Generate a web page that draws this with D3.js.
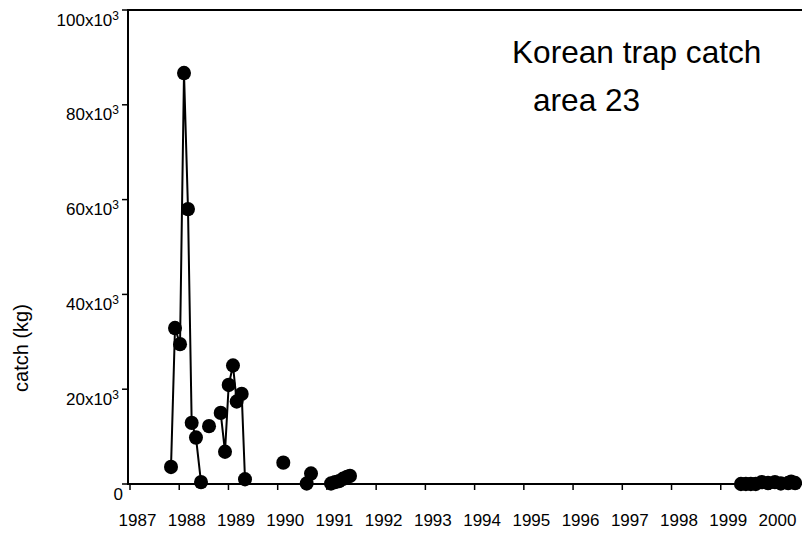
<!DOCTYPE html>
<html>
<head>
<meta charset="utf-8">
<script src="https://cdn.jsdelivr.net/npm/d3@7"></script>
<style>
  html, body { margin: 0; padding: 0; background: #fff; }
  svg { display: block; font-family: "Liberation Sans", Arial, sans-serif; }
</style>
</head>
<body>
<svg id="chart" width="802" height="533"></svg>
<script>
// ---- data ----
// decimal year of each sample; null marks a break in the line
const years = [
  1987.833, 1987.914, 1988.016, 1988.097, 1988.178, 1988.253, 1988.340, 1988.442, null,
  1988.605, null,
  1988.842, 1988.930, 1989.005, 1989.092, 1989.167, 1989.269, 1989.336, null,
  1990.114, null,
  1990.589, 1990.677, null,
  1991.083, 1991.164, 1991.245, 1991.327, 1991.408, 1991.469, null,
  1999.41, 1999.51, 1999.61, 1999.71, 1999.83, 1999.96, 2000.10, 2000.22, 2000.37, 2000.43, 2000.51
];
// catch in kg
const catchKg = [
  3600, 32900, 29500, 86700, 58000, 12900, 9800, 400, null,
  12200, null,
  15000, 6800, 20900, 25000, 17400, 19000, 1000, null,
  4500, null,
  100, 2200, null,
  100, 400, 600, 1100, 1500, 1700, null,
  0, 0, 0, 0, 400, 200, 400, 100, 200, 500, 200
];
const xTickYears = [1987, 1988, 1989, 1990, 1991, 1992, 1993, 1994, 1995, 1996, 1997, 1998, 1999, 2000];
const yTickValues = [0, 20000, 40000, 60000, 80000, 100000];
const yTickMantissa = ["0", "20x10", "40x10", "60x10", "80x10", "100x10"];
const yTickExponent = ["", "3", "3", "3", "3", "3"];
const titleLines = ["Korean trap catch", "area 23"];
const yAxisTitle = "catch (kg)";

// ---- drawing ----
const svg = d3.select("#chart");
const axisX0 = 128;            // y-axis line position
const x = d3.scaleLinear().domain([1987, 1987 + 672 / 49.23]).range([130, 802]);
const y = d3.scaleLinear().domain([0, 100000]).range([484, 10]);

const pts = years.map((yr, i) => ({ yr, v: catchKg[i] }));

// frame: y axis line, top line, x axis line
svg.append("line").attr("x1", axisX0).attr("x2", axisX0).attr("y1", y(100000)).attr("y2", y(0))
  .attr("stroke", "#000").attr("stroke-width", 2);
svg.append("line").attr("x1", axisX0 - 1).attr("x2", 802).attr("y1", y(100000)).attr("y2", y(100000))
  .attr("stroke", "#000").attr("stroke-width", 2);
svg.append("line").attr("x1", axisX0 - 1).attr("x2", 802).attr("y1", y(0)).attr("y2", y(0))
  .attr("stroke", "#000").attr("stroke-width", 2);

// x ticks
svg.append("g").selectAll("line").data(xTickYears).join("line")
  .attr("x1", d => x(d)).attr("x2", d => x(d))
  .attr("y1", y(0)).attr("y2", y(0) + 6)
  .attr("stroke", "#000").attr("stroke-width", 1.5);
svg.append("g").selectAll("text").data(xTickYears).join("text")
  .attr("x", d => x(d) + 7.5).attr("y", 526)
  .attr("text-anchor", "middle").attr("font-size", 17).attr("fill", "#000")
  .text(d => d);

// y ticks
svg.append("g").selectAll("line").data(yTickValues).join("line")
  .attr("x1", axisX0 - 6).attr("x2", axisX0)
  .attr("y1", d => y(d)).attr("y2", d => y(d))
  .attr("stroke", "#000").attr("stroke-width", 1.5);
const yl = svg.append("g").selectAll("text").data(yTickValues).join("text")
  .attr("x", (d, i) => yTickExponent[i] ? 119 : 123)
  .attr("y", d => y(d) + 15.5)
  .attr("text-anchor", "end").attr("font-size", 17).attr("fill", "#000");
yl.append("tspan").text((d, i) => yTickMantissa[i]);
yl.append("tspan").attr("font-size", 12).attr("dy", -6).text((d, i) => yTickExponent[i]);

// y axis title
svg.append("text")
  .attr("transform", "translate(28,348) rotate(-90)")
  .attr("text-anchor", "middle").attr("font-size", 20).attr("fill", "#000")
  .text(yAxisTitle);

// title
svg.append("text").attr("x", 512).attr("y", 63).attr("font-size", 31.6).attr("fill", "#000").text(titleLines[0]);
svg.append("text").attr("x", 533).attr("y", 111).attr("font-size", 31.6).attr("fill", "#000").text(titleLines[1]);

// series line
const line = d3.line()
  .defined(d => d.yr !== null && d.v !== null)
  .x(d => x(d.yr)).y(d => y(d.v));
svg.append("path").datum(pts).attr("d", line)
  .attr("fill", "none").attr("stroke", "#000").attr("stroke-width", 2);

// markers
svg.append("g").selectAll("ellipse").data(pts.filter(d => d.yr !== null && d.v !== null)).join("ellipse")
  .attr("cx", d => x(d.yr)).attr("cy", d => y(d.v))
  .attr("rx", 7).attr("ry", 7.2).attr("fill", "#000");
</script>
</body>
</html>
